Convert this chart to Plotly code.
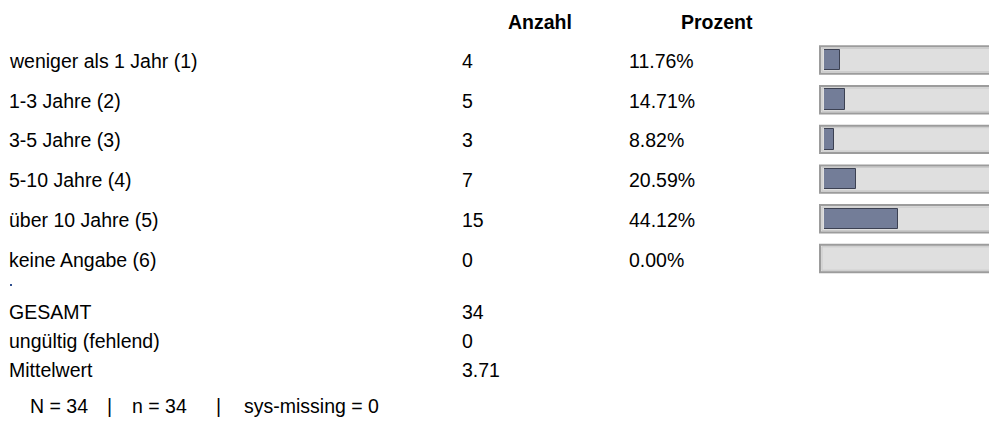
import plotly.graph_objects as go

categories = ["weniger als 1 Jahr (1)", "1-3 Jahre (2)", "3-5 Jahre (3)",
              "5-10 Jahre (4)", "über 10 Jahre (5)", "keine Angabe (6)"]
counts = [4, 5, 3, 7, 15, 0]
percents = [11.76, 14.71, 8.82, 20.59, 44.12, 0.00]
headers = ["Anzahl", "Prozent"]
summary_labels = ["GESAMT", "ungültig (fehlend)", "Mittelwert"]
summary_values = ["34", "0", "3.71"]
footer_parts = ["N = 34", "|", "n = 34", "|", "sys-missing = 0"]

W, H = 989, 431
FONT = dict(family="Liberation Sans, Arial, sans-serif", size=19.5, color="#000000")

# layout (pixel units, y measured from top)
HEADER_Y = 22
ROW0, STEP = 60, 39.7          # bar-row centres
SUM0, SUM_STEP = 312, 29       # summary-row centres
FOOT_Y = 406
X_LABEL, X_COUNT, X_PCT = 8, 461, 628
X_HDR_COUNT, X_HDR_PCT = 540, 717
FOOT_X = [29, 106, 131, 215, 243]

BOX_X0 = 820
BAR_X0 = 824
PX_PER_UNIT = 1.8
X_START = 3.0

row_y = [ROW0 + STEP * i for i in range(len(categories))]

fig = go.Figure()
fig.add_trace(go.Bar(
    x=percents, y=row_y, orientation="h", width=20.5, base=0,
    marker=dict(color="#737d98", line=dict(color="#3c4152", width=1)),
    hoverinfo="skip", showlegend=False,
))

shapes = []
for y in row_y:
    shapes.append(dict(type="rect", xref="paper", yref="y", layer="below",
                       x0=BOX_X0 / W, x1=1.02, y0=y - 13.7, y1=y + 13.7,
                       fillcolor="#dfdfdf", line=dict(color="#9c9c9c", width=2)))
    shapes.append(dict(type="rect", xref="paper", yref="y", layer="below",
                       x0=(BOX_X0 + 2) / W, x1=1.02, y0=y - 11.7, y1=y + 11.7,
                       fillcolor="rgba(0,0,0,0)", line=dict(color="#c9c9c9", width=1)))
# tiny spacer dot
shapes.append(dict(type="rect", xref="paper", yref="y",
                   x0=10 / W, x1=12 / W, y0=284, y1=286,
                   fillcolor="#2f4f8f", line=dict(width=0)))

ann = []
def txt(x, y, s, anchor="left", bold=False):
    ann.append(dict(x=x / W, y=y, xref="paper", yref="y",
                    text=("<b>%s</b>" % s) if bold else s,
                    showarrow=False, xanchor=anchor, yanchor="middle",
                    borderpad=0, font=FONT))

txt(X_HDR_COUNT, HEADER_Y, headers[0], "center", True)
txt(X_HDR_PCT, HEADER_Y, headers[1], "center", True)
for y, c, n, p in zip(row_y, categories, counts, percents):
    txt(X_LABEL, y + 1, c)
    txt(X_COUNT, y + 1, str(n))
    txt(X_PCT, y + 1, "%.2f%%" % p)
for i, (l, v) in enumerate(zip(summary_labels, summary_values)):
    y = SUM0 + SUM_STEP * i
    txt(X_LABEL, y, l)
    txt(X_COUNT, y, v)
for xp, s in zip(FOOT_X, footer_parts):
    txt(xp, FOOT_Y, s)

fig.update_layout(
    width=W, height=H, margin=dict(l=0, r=0, t=0, b=0),
    paper_bgcolor="white", plot_bgcolor="rgba(0,0,0,0)",
    xaxis=dict(domain=[BAR_X0 / W, 1], range=[X_START, X_START + (W - BAR_X0) / PX_PER_UNIT],
               visible=False, fixedrange=True),
    yaxis=dict(range=[H, 0], visible=False, fixedrange=True),
    shapes=shapes, annotations=ann, bargap=0,
)

fig.write_html("out.html", config={"displayModeBar": False},
               post_script="document.body.style.margin='0';document.body.style.overflow='hidden';")
